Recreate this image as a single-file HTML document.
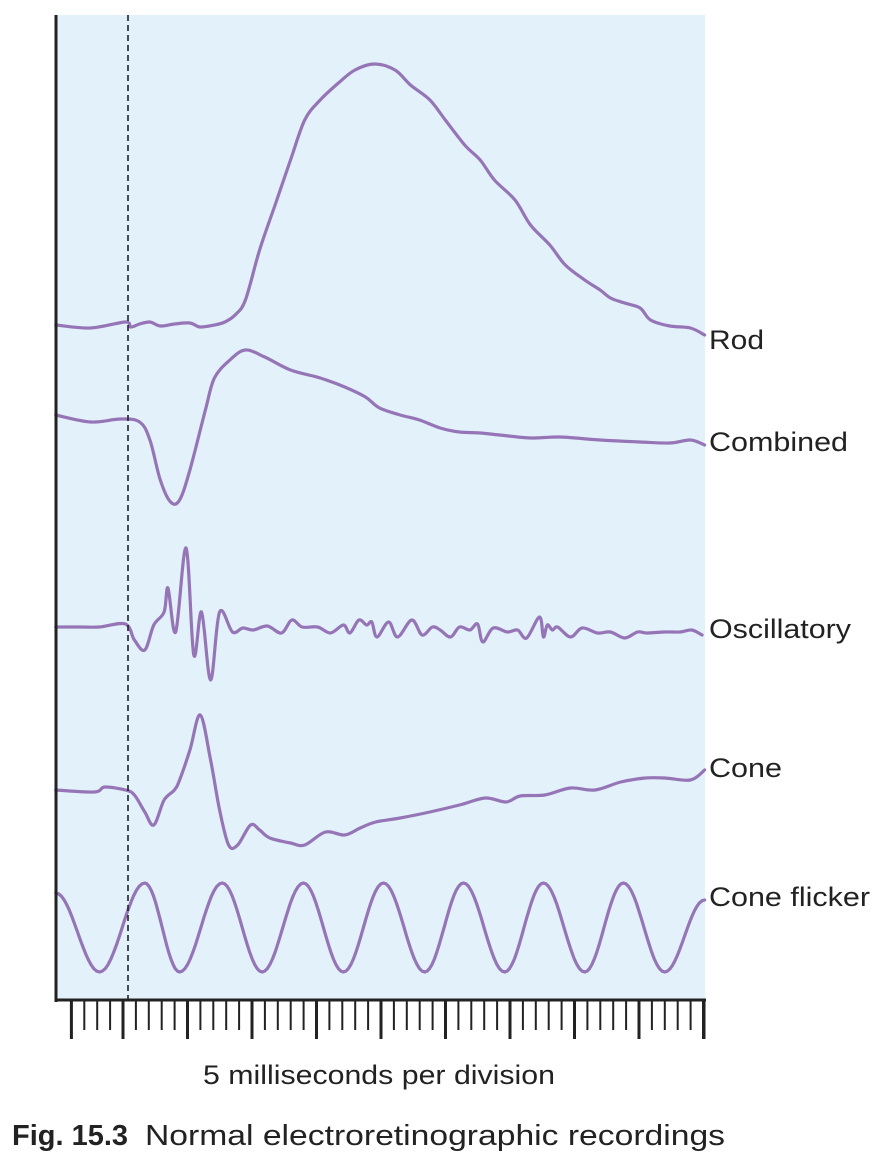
<!DOCTYPE html>
<html><head><meta charset="utf-8"><style>
html,body{margin:0;padding:0;background:#fff;}
body{width:874px;height:1162px;overflow:hidden;font-family:"Liberation Sans",sans-serif;}
</style></head><body>
<svg id="chart" width="874" height="1162" viewBox="0 0 874 1162" xmlns="http://www.w3.org/2000/svg">
<rect x="56" y="15" width="649" height="985" fill="#e3f1fb"/>
<g id="series"></g>
<line x1="128" y1="15" x2="128" y2="1000" stroke="#222" stroke-width="1.6" stroke-dasharray="6,4"/>
<line x1="56" y1="15" x2="56" y2="1002" stroke="#222" stroke-width="3"/>
<line x1="55" y1="1000" x2="706" y2="1000" stroke="#222" stroke-width="3"/>
<g id="ticks"></g>
<g font-size="27" fill="#222" dominant-baseline="middle" lengthAdjust="spacingAndGlyphs">
<text x="709" y="342" textLength="55" lengthAdjust="spacingAndGlyphs">Rod</text>
<text x="709" y="444" textLength="139" lengthAdjust="spacingAndGlyphs">Combined</text>
<text x="709" y="631" textLength="142" lengthAdjust="spacingAndGlyphs">Oscillatory</text>
<text x="709" y="770" textLength="73" lengthAdjust="spacingAndGlyphs">Cone</text>
<text x="709" y="899" textLength="161" lengthAdjust="spacingAndGlyphs">Cone flicker</text>
</g>
<text x="203" y="1084" font-size="27" fill="#222" textLength="352" lengthAdjust="spacingAndGlyphs">5 milliseconds per division</text>
<text x="12" y="1145" font-size="29" font-weight="bold" fill="#222" textLength="116" lengthAdjust="spacingAndGlyphs">Fig. 15.3</text>
<text x="145" y="1145" font-size="29" fill="#222" textLength="580" lengthAdjust="spacingAndGlyphs">Normal electroretinographic recordings</text>
</svg>
<script>
const rodT=[-5.6,-2.9,-0.2,0.2,0.9,1.7,2.5,3.6,4.8,5.6,6.7,7.5,8.3,9.1,10.2,11.4,12.6,13.7,14.9,16.4,17.6,19.1,20.7,21.9,23.4,24.6,26.1,27.3,28.4,30.0,31.2,32.7,33.9,35.4,36.6,37.4,38.5,39.7,40.5,42.0,43.6,44.7];
const rodV=[0,-3,3,-2,1,3,-1,1,2,-2,0,3,10,25,75,120,165,205,225,243,255,261,255,240,225,205,180,165,145,125,100,80,60,45,35,27,22,17,5,-1,-3,-10];
const combT=[-5.6,-2.9,-0.6,0.9,1.7,2.5,3.3,4.0,4.8,6.0,6.7,7.9,9.1,10.6,12.6,14.9,16.8,18.4,19.5,21.1,22.6,24.2,25.7,27.3,28.8,31.2,33.5,36.6,39.7,42.0,43.6,44.7];
const combV=[5,-2,1,-2,-20,-60,-82,-80,-50,10,42,60,70,63,50,42,33,23,12,5,0,-8,-12,-13,-15,-18,-17,-20,-22,-23,-20,-25];
const oscT=[-5.6,-3.7,-2.2,-0.2,0.5,1.3,2.0,2.8,3.1,3.7,4.5,5.1,5.7,6.4,7.1,8.1,8.9,9.7,10.8,11.9,12.7,13.5,14.7,15.7,16.7,17.2,17.9,18.5,18.9,19.3,20.2,20.9,22.0,22.8,23.6,24.2,25.0,25.7,26.5,27.1,27.5,28.3,29.4,30.2,30.9,31.9,32.2,32.5,32.9,33.3,34.3,35.2,36.4,37.4,38.5,39.5,40.2,41.5,42.8,43.7,44.5];
const oscV=[1,1,1,4,-12,-22,3,16,40,-4,80,-27,16,-52,16,-4,0,-2,2,-5,8,1,1,-5,3,-5,8,3,6,-9,6,-9,8,-7,1,-2,-9,1,-2,4,-14,0,-4,-2,-10,11,-9,3,-2,1,-9,0,-5,-4,-10,-4,-5,-4,-4,-2,-7];
const coneT=[-5.6,-2.6,-1.8,-0.2,0.5,1.3,2.0,2.8,3.6,4.0,4.8,5.6,6.4,7.1,7.8,8.5,9.5,10.2,11.0,12.6,13.7,15.3,16.8,18.0,19.2,21.1,23.4,25.7,27.7,29.3,30.4,32.3,34.3,36.2,38.2,40.1,41.6,43.6,44.7];
const coneV=[0,-2,3,0,-5,-22,-35,-10,0,10,40,75,30,-20,-55,-55,-35,-40,-48,-53,-55,-42,-45,-38,-32,-28,-22,-15,-8,-12,-6,-5,2,0,8,12,12,10,20];
const flickT=[-5.6,-2.2,1.3,4.0,7.3,10.4,13.6,16.7,19.8,23.0,26.0,29.2,32.2,35.4,38.4,41.6,44.7];
const flickV=[35,-44,45,-44,45,-44,45,-44,45,-44,45,-44,45,-44,45,-44,28];
const tickDivs=[-1,0,1,2,3,4,5,6,7,8,9];

const PX_PER_MS=12.9, T0=128, TICK0=123;
function xScale(t){return T0+t*PX_PER_MS;}
const NS="http://www.w3.org/2000/svg";
const g=document.getElementById('series');
function smooth(pts){
  let d=`M${pts[0][0]},${pts[0][1]}`;
  for(let i=0;i<pts.length-1;i++){
    const p0=pts[i-1]||pts[i],p1=pts[i],p2=pts[i+1],p3=pts[i+2]||p2;
    const c1=[p1[0]+(p2[0]-p0[0])/6,p1[1]+(p2[1]-p0[1])/6];
    const c2=[p2[0]-(p3[0]-p1[0])/6,p2[1]-(p3[1]-p1[1])/6];
    d+=` C${c1[0].toFixed(1)},${c1[1].toFixed(1)} ${c2[0].toFixed(1)},${c2[1].toFixed(1)} ${p2[0].toFixed(1)},${p2[1].toFixed(1)}`;
  }
  return d;
}
function cosPath(pts){
  let d=`M${pts[0][0]},${pts[0][1]}`;
  for(let i=0;i<pts.length-1;i++){
    const a=pts[i],b=pts[i+1];
    for(let k=1;k<=16;k++){const f=k/16;const s=(1-Math.cos(Math.PI*f))/2;
      d+=` L${(a[0]+(b[0]-a[0])*f).toFixed(1)},${(a[1]+(b[1]-a[1])*s).toFixed(1)}`;}
  }
  return d;
}
function draw(T,V,base,name,cos){
  const pts=T.map((t,i)=>[xScale(t),base-V[i]]);
  const p=document.createElementNS(NS,'path');
  p.setAttribute('d',cos?cosPath(pts):smooth(pts));
  p.setAttribute('fill','none');p.setAttribute('stroke','#9675b6');
  p.setAttribute('stroke-width','3.2');p.setAttribute('stroke-linejoin','round');p.setAttribute('stroke-linecap','round');
  
  
  g.appendChild(p);
}
draw(rodT,rodV,325,'rod-trace');
draw(combT,combV,420,'combined-trace');
draw(oscT,oscV,628,'oscillatory-trace');
draw(coneT,coneV,790,'cone-trace');
draw(flickT,flickV,928,'cone-flicker-trace',true);

const tg=document.getElementById('ticks');
const DIV_PX=64.5;
for(const dv of tickDivs){
  for(let m=0;m<5;m++){
    const x=TICK0+dv*DIV_PX+m*DIV_PX/5;
    const major=(m===0)||(dv===-1&&m===1);
    if(dv===-1&&m===0)continue;
    if(x>706)continue;
    const l=document.createElementNS(NS,'line');
    l.setAttribute('x1',x);l.setAttribute('x2',x);l.setAttribute('y1',1000);
    l.setAttribute('y2',major?1039:1030);l.setAttribute('stroke','#222');l.setAttribute('stroke-width',major?3:2);
    
    
    tg.appendChild(l);
  }
}
const lEnd=document.createElementNS(NS,'line');
lEnd.setAttribute('x1',704);lEnd.setAttribute('x2',704);lEnd.setAttribute('y1',1000);lEnd.setAttribute('y2',1039);
lEnd.setAttribute('stroke','#222');lEnd.setAttribute('stroke-width',3);


tg.appendChild(lEnd);
</script>
</body></html>
